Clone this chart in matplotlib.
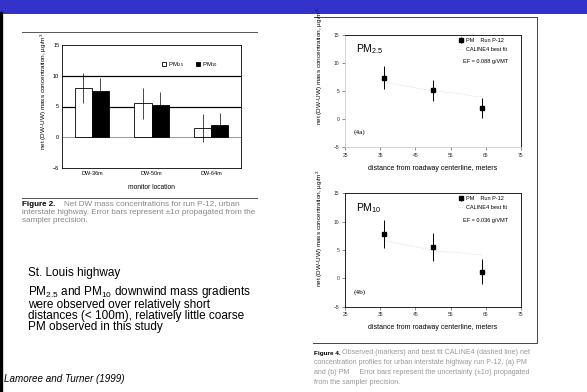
import numpy as np
import matplotlib
matplotlib.use('Agg')
import matplotlib.pyplot as plt

plt.rcParams['font.family'] = ['Liberation Sans', 'DejaVu Sans']
plt.rcParams['mathtext.default'] = 'regular'

W, H = 587, 392

# Figure 2 data (bar chart)
locations = ['DW-36m', 'DW-50m', 'DW-64m']
pm25_bar = [8.0, 5.5, 1.5]
pm25_err = [2.5, 2.5, 2.3]
pm10_bar = [7.5, 5.3, 2.0]
pm10_err = [2.1, 2.0, 2.0]

# Figure 4 data (distance profiles)
dist = [36, 50, 64]
pm25_obs = [7.4, 5.1, 2.0]
pm25_obs_err = [2.1, 1.9, 1.8]
pm25_cal_x = [36, 50, 55, 58, 60, 64]
pm25_cal_y = [6.6, 5.0, 4.7, 4.5, 4.2, 3.9]
pm10_obs = [7.8, 5.5, 1.2]
pm10_obs_err = [2.5, 2.5, 2.2]
pm10_cal_x = [36, 50, 53, 57, 61, 64]
pm10_cal_y = [6.7, 5.0, 4.7, 4.6, 4.3, 4.1]

ylab = 'net (DW-UW) mass concentration, \u00b5g/m$^3$'


def rect(x0, y0, x1, y1):
    # pixel box (top-left origin) -> figure fraction
    return [x0 / W, 1 - y1 / H, (x1 - x0) / W, (y1 - y0) / H]


fig = plt.figure(figsize=(W / 100, H / 100), dpi=100)

# slide background / decorations
bg = fig.add_axes([0, 0, 1, 1])
bg.set_xlim(0, W)
bg.set_ylim(H, 0)
bg.axis('off')
bg.fill_between([0, W], 0, 13.5, color='#3333cc', lw=0)
bg.plot([1.2, 1.2], [13, H], color='black', lw=2.4)
bg.plot([22, 257], [32, 32], color='#555555', lw=0.7)
bg.plot([22, 257], [197.5, 197.5], color='#555555', lw=0.7)
bg.plot([314, 537, 537, 313], [17, 17, 343, 343], color='#444444', lw=0.7)

bg.text(22, 204, 'Figure 2.', fontsize=5.8, fontweight='bold', va='center')
bg.text(64, 204, 'Net DW mass concentrations for run P-12, urban', fontsize=5.9, color='#888888', va='center')
bg.text(22, 212, 'interstate highway. Error bars represent \u00b11\u03c3 propagated from the', fontsize=5.9, color='#888888', va='center')
bg.text(22, 220, 'sampler precision.', fontsize=5.9, color='#888888', va='center')

bg.text(314, 353, 'Figure 4.', fontsize=4.6, fontweight='bold', va='center')
bg.text(342, 353, 'Observed (markers) and best fit CALINE4 (dashed line) net', fontsize=5.1, color='#999999', va='center')
bg.text(314, 363, 'concentration profiles for urban interstate highway run P-12, (a) PM', fontsize=5.1, color='#999999', va='center')
bg.text(314, 373, 'and (b) PM     Error bars represent the uncertainty (\u00b11\u03c3) propagated', fontsize=5.1, color='#999999', va='center')
bg.text(314, 383, 'from the sampler precision.', fontsize=5.1, color='#999999', va='center')

bg.text(28, 273, 'St. Louis highway', fontsize=8.5, va='center')
body = '\n'.join(['PM$_{2.5}$ and PM$_{10}$ downwind mass gradients',
                  'were observed over relatively short',
                  'distances (< 100m), relatively little coarse',
                  'PM observed in this study'])
bg.text(28, 284, body, fontsize=8.5, va='top', linespacing=0.9)
bg.text(4, 379, 'Lamoree and Turner (1999)', fontsize=7.1, style='italic', va='center')

# Figure 2: bar chart
ax = fig.add_axes(rect(62, 45, 241, 168))
x = np.arange(len(locations))
bw = 0.29
ax.bar(x - bw / 2, pm25_bar, bw, color='white', edgecolor='black', lw=0.6, label='PM$_{2.5}$')
ax.bar(x + bw / 2, pm10_bar, bw, color='black', edgecolor='black', lw=0.6, label='PM$_{10}$')
ax.errorbar(x - bw / 2, pm25_bar, yerr=pm25_err, fmt='none', ecolor='black', elinewidth=0.5, capsize=0)
ax.errorbar(x + bw / 2, pm10_bar, yerr=pm10_err, fmt='none', ecolor='black', elinewidth=0.5, capsize=0)
ax.axhline(10, color='black', lw=0.9, zorder=0)
ax.axhline(5, color='black', lw=0.9, zorder=0)
ax.axhline(0, color='#888888', lw=0.6, zorder=0)
ax.set_xlim(-0.5, 2.5)
ax.set_ylim(-5, 15)
ax.set_yticks([-5, 0, 5, 10, 15])
ax.set_xticks(x)
ax.set_xticklabels(locations)
ax.tick_params(labelsize=4, length=0, pad=2)
ax.set_xlabel('monitor location', fontsize=4.8, labelpad=6)
ax.set_ylabel(ylab, fontsize=4.6)
ax.yaxis.set_label_coords(-0.075, 0.62)
for s in ax.spines.values():
    s.set_linewidth(0.6)
ax.legend(loc='upper right', ncol=2, fontsize=4.3, frameon=False, handlelength=0.8,
          handleheight=0.8, columnspacing=1.8, handletextpad=0.3, bbox_to_anchor=(0.9, 0.92))


def profile(rc, obs, err, cx, cy, name, tag, ef):
    a = fig.add_axes(rc)
    a.plot(cx, cy, color='#cccccc', lw=0.5, ls=':', label='CALINE4 best fit')
    a.errorbar(dist, obs, yerr=err, fmt='s', ms=2.6, color='black', ecolor='black',
               elinewidth=0.7, capsize=0, label='PM    Run P-12')
    a.set_xlim(25, 75)
    a.set_ylim(-5, 15)
    a.set_xticks([25, 35, 45, 55, 65, 75])
    a.set_yticks([-5, 0, 5, 10, 15])
    a.tick_params(labelsize=3.6, length=2, width=0.4, pad=2, colors='#333333')
    a.set_xlabel('distance from roadway centerline, meters', fontsize=5, labelpad=5)
    a.set_ylabel(ylab, fontsize=4.6)
    for s in a.spines.values():
        s.set_linewidth(0.6)
    h, l = a.get_legend_handles_labels()
    a.legend(h[::-1], l[::-1], loc='upper right', fontsize=4, frameon=False, handlelength=0.8,
             handletextpad=0.6, labelspacing=0.7, bbox_to_anchor=(0.95, 1.02))
    a.text(0.67, 0.76, ef, transform=a.transAxes, fontsize=4, va='center')
    a.text(0.06, 0.87, name, transform=a.transAxes, fontsize=7.5, va='center')
    a.text(0.05, 0.13, tag, transform=a.transAxes, fontsize=5.3, family='Liberation Serif', va='center')
    return a


a1 = profile(rect(345, 35, 521, 147), pm25_obs, pm25_obs_err, pm25_cal_x, pm25_cal_y,
             'PM$_{2.5}$', '(4a)', 'EF = 0.088 g/VMT')
a1.yaxis.set_label_coords(-0.114, 0.72)
a1.spines['left'].set_color('#cccccc')
a1.spines['bottom'].set_color('#cccccc')

a2 = profile(rect(345, 193.5, 521, 306.7), pm10_obs, pm10_obs_err, pm10_cal_x, pm10_cal_y,
             'PM$_{10}$', '(4b)', 'EF = 0.036 g/VMT')
a2.yaxis.set_label_coords(-0.114, 0.69)

fig.savefig('out.png', dpi=100)
